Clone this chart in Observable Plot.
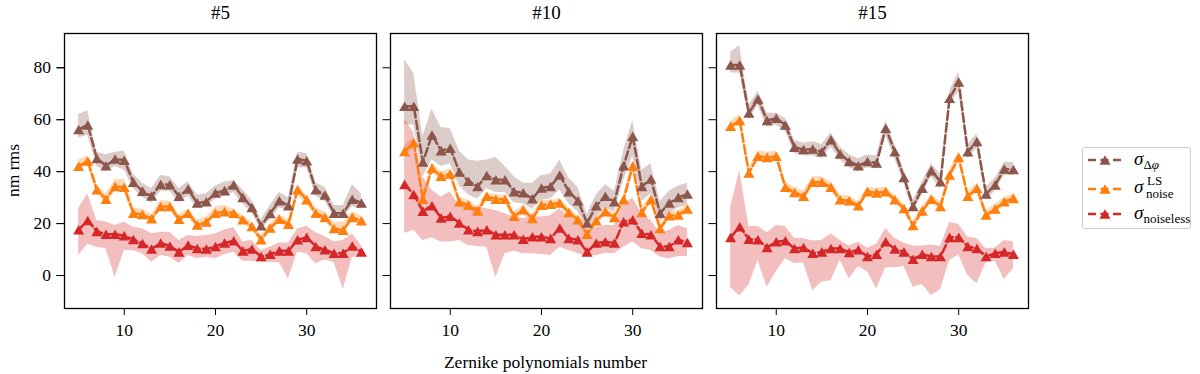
<!DOCTYPE html>
<html>
<head>
<meta charset="utf-8">
<script src="https://cdn.jsdelivr.net/npm/d3@7"></script>
<script src="https://cdn.jsdelivr.net/npm/@observablehq/plot@0.6"></script>
<style>
  html, body { margin: 0; padding: 0; background: #fff; }
  #wrap { position: relative; width: 1200px; height: 374px; font-family: "Liberation Serif", "DejaVu Serif", serif; }
  #legend { position: absolute; left: 0; top: 0; }
</style>
</head>
<body>
<div id="wrap"></div>
<script>
// ---- data ----
const zernike = [5,6,7,8,9,10,11,12,13,14,15,16,17,18,19,20,21,22,23,24,25,26,27,28,29,30,31,32,33,34,35,36];
const panels = ["#5", "#10", "#15"];
const seriesNames = ["dphi", "noiseLS", "noiseless"];
const seriesColors = ["#8c564b", "#ff7f0e", "#d62728"];
const yTicks = [0, 20, 40, 60, 80];
const xTicks = [10, 20, 30];
const xLabel = "Zernike polynomials number";
const yLabel = "nm rms";

// panel #5
const dphi5   = [56.2,58.0,45.1,42.3,44.9,44.4,35.9,32.5,30.6,35.1,35.0,30.5,33.3,27.9,28.4,31.8,32.7,34.9,30.1,26.2,19.2,23.9,28.8,26.9,44.9,44.2,33.0,31.0,24.0,24.0,29.4,27.9];
const dphi5Hi = [62.0,63.5,47.5,46.5,47.5,48.0,39.0,35.5,33.5,38.5,38.0,33.5,36.0,31.0,31.5,34.5,36.0,36.5,33.0,29.0,21.5,27.0,32.0,30.0,47.5,47.0,35.5,34.0,27.0,27.0,35.0,31.5];
const dphi5Lo = [53.0,54.0,42.0,40.0,42.0,40.5,33.5,30.0,28.0,32.5,32.5,28.0,30.5,26.0,26.5,29.5,30.5,32.0,27.5,24.0,17.5,21.5,26.0,25.0,41.5,41.5,30.5,28.5,22.5,22.5,26.5,25.5];
const ls5     = [42.1,44.1,33.0,29.4,34.3,34.0,24.0,23.5,21.9,26.6,26.6,21.7,24.0,19.5,20.6,24.0,24.6,24.0,21.5,18.9,13.8,18.3,21.7,19.8,33.0,29.2,24.0,22.4,18.1,17.4,22.4,21.1];
const ls5Hi   = [44.5,46.0,35.0,31.5,37.0,37.0,26.0,25.5,23.5,29.0,28.5,23.5,25.5,21.5,22.5,26.5,27.0,25.5,23.0,20.5,15.5,20.0,23.5,21.5,35.0,31.0,26.0,24.5,20.5,20.5,24.5,23.0];
const ls5Lo   = [40.5,42.5,31.5,27.5,32.5,32.0,22.5,22.0,20.5,25.0,25.0,20.0,22.5,18.0,19.0,22.5,23.0,22.5,20.0,17.5,12.5,17.0,20.0,18.5,31.0,27.5,22.5,21.0,17.0,16.0,21.0,19.5];
const nl5     = [17.6,21.2,17.0,15.9,15.9,15.3,13.9,12.3,10.2,12.5,11.4,9.1,11.7,10.4,10.2,11.2,12.5,13.4,9.5,10.2,7.3,8.2,9.5,9.5,13.8,14.7,11.2,9.9,8.6,8.6,11.4,9.1];
const nl5Hi   = [25.7,31.5,21.2,20.6,19.3,20.6,18.6,18.0,16.1,16.7,16.7,13.5,15.4,15.0,15.4,16.0,17.5,18.5,13.0,13.5,9.6,11.0,12.5,12.5,18.0,19.0,16.5,15.0,13.0,13.5,16.0,11.6];
const nl5Lo   = [7.7,12.0,10.9,10.3,-0.8,9.6,9.6,8.4,5.1,7.7,7.0,4.6,7.7,6.5,7.0,6.5,8.0,9.0,5.5,5.5,5.1,5.0,5.0,-1.3,9.0,8.4,4.5,6.0,5.0,-5.3,7.0,7.0];

// panel #10
const dphi10   = [65.2,65.2,43.7,54.1,48.1,49.0,39.9,36.3,34.3,38.5,36.9,36.9,32.3,31.9,29.6,33.7,34.3,38.7,32.3,28.8,20.2,26.9,30.5,28.4,42.3,53.6,34.3,37.2,24.0,27.9,30.1,31.4];
const dphi10Hi = [83.2,77.8,53.5,64.0,57.0,56.6,48.0,44.5,44.0,44.5,45.5,42.0,38.0,35.5,35.5,38.5,39.0,44.5,37.5,34.0,23.5,31.0,35.0,32.5,48.0,59.8,40.5,43.0,28.5,32.5,34.5,35.5];
const dphi10Lo = [58.0,58.0,38.0,44.5,42.0,43.0,34.5,31.0,29.5,33.5,32.0,32.0,28.0,27.5,25.5,29.0,29.5,33.0,27.5,24.5,17.5,22.5,26.0,24.5,36.5,46.0,28.5,31.5,20.5,24.0,26.0,27.0];
const ls10     = [47.8,51.1,29.4,41.3,38.2,39.1,28.4,27.1,24.9,30.5,29.4,29.4,22.8,25.3,22.0,27.1,27.5,27.9,24.3,21.5,15.9,21.1,24.6,22.4,29.2,42.2,24.3,29.2,18.1,23.0,23.3,25.6];
const ls10Hi   = [50.0,53.0,31.5,43.5,40.0,41.0,30.0,29.0,26.5,32.0,31.0,31.0,24.5,27.0,23.5,29.0,29.0,29.5,26.0,23.0,17.5,22.5,26.0,24.0,31.0,44.5,26.0,31.0,19.5,24.5,25.0,27.0];
const ls10Lo   = [46.0,49.0,27.5,39.5,36.5,37.5,26.5,25.5,23.0,29.0,28.0,28.0,21.0,23.5,20.5,25.5,26.0,26.5,22.5,20.0,14.5,19.5,23.0,21.0,27.5,40.0,22.5,27.5,16.5,21.5,22.0,24.0];
const nl10     = [35.1,31.2,24.8,26.9,22.2,22.8,20.2,17.6,17.0,17.6,15.7,15.7,15.7,14.0,14.9,14.9,14.3,18.3,14.3,13.8,9.1,12.5,13.0,12.5,20.7,21.5,16.3,15.7,11.2,11.2,13.8,12.7];
const nl10Hi   = [60.3,55.0,37.9,32.8,30.2,32.2,27.0,26.4,26.4,25.7,25.0,23.8,22.5,22.0,22.5,22.5,23.0,25.7,22.5,20.6,17.4,18.5,19.3,19.3,27.6,29.8,23.8,21.2,16.3,17.4,19.3,18.0];
const nl10Lo   = [16.3,17.4,13.5,14.5,12.9,12.9,13.5,11.6,11.2,10.9,-0.9,8.4,9.4,8.4,8.4,8.1,7.7,10.9,9.6,8.4,7.1,7.7,8.6,8.4,10.9,12.9,10.3,9.6,7.1,6.5,7.3,7.3];

// panel #15
const dphi15   = [81.1,81.1,62.6,68.0,59.7,60.6,58.0,49.4,48.5,48.7,47.7,52.3,46.8,43.9,42.3,43.9,43.3,56.7,47.7,37.8,26.6,33.6,40.4,36.1,68.3,74.5,47.7,51.6,31.4,34.9,41.0,40.8];
const dphi15Hi = [86.0,88.5,65.5,71.0,62.5,62.5,60.5,52.0,51.0,51.5,50.5,55.0,49.5,46.5,45.0,46.5,46.0,59.5,50.5,40.5,29.0,36.0,43.0,39.0,71.0,78.5,50.5,54.5,34.0,37.5,43.5,43.5];
const dphi15Lo = [78.0,78.0,60.0,65.5,57.0,58.0,55.5,47.0,46.0,46.0,45.0,49.5,44.5,41.5,40.0,41.5,41.0,54.0,45.0,35.5,24.5,31.0,38.0,33.5,65.5,71.0,45.0,49.0,29.0,32.5,38.5,38.5];
const ls15     = [57.5,59.7,39.5,45.9,45.5,45.9,34.0,32.0,30.5,35.9,35.9,34.0,29.2,28.8,26.9,32.3,31.8,32.3,29.2,25.8,19.3,24.9,29.4,26.6,38.7,45.5,30.5,33.6,23.3,25.6,28.4,29.7];
const ls15Hi   = [59.5,61.8,41.5,48.0,47.5,48.0,36.0,34.0,32.5,38.0,38.0,36.0,31.0,30.5,28.5,34.0,33.5,34.0,31.0,27.5,21.0,26.5,31.0,28.5,40.5,47.5,32.5,35.5,25.0,27.5,30.0,31.5];
const ls15Lo   = [56.0,58.0,38.0,44.5,44.0,44.5,32.5,30.5,29.0,34.5,34.5,32.5,27.5,27.5,25.5,31.0,30.5,31.0,27.5,24.5,18.0,23.5,28.0,25.0,37.0,43.5,29.0,32.0,22.0,24.0,27.0,28.5];
const nl15     = [14.7,18.8,14.0,13.8,10.8,13.0,13.4,10.4,10.8,8.6,9.1,10.4,10.4,8.9,9.9,7.3,8.2,13.0,10.2,9.1,6.3,8.2,7.3,7.3,14.7,14.7,11.2,10.4,7.3,8.6,9.1,8.2];
const nl15Hi   = [26.4,40.3,18.9,18.9,16.5,19.3,19.0,14.3,14.3,13.3,13.6,16.0,13.5,11.4,12.9,10.5,12.0,18.0,14.3,12.5,11.4,11.4,11.8,11.2,20.5,19.6,14.8,14.2,10.3,10.6,13.5,12.9];
const nl15Lo   = [-4.6,-7.9,-3.7,5.8,-4.5,1.5,6.6,4.6,4.8,-5.9,-2.5,-2.0,6.0,-1.3,3.5,1.5,-5.1,3.0,3.0,3.5,-4.5,-3.5,-7.7,-5.5,5.8,8.0,0.0,-3.2,5.0,5.5,-1.5,2.6];

// ---- build long table for Plot ----
const groups = [
  ["#5",  "dphi", dphi5, dphi5Lo, dphi5Hi], ["#5",  "noiseLS", ls5, ls5Lo, ls5Hi], ["#5",  "noiseless", nl5, nl5Lo, nl5Hi],
  ["#10", "dphi", dphi10, dphi10Lo, dphi10Hi], ["#10", "noiseLS", ls10, ls10Lo, ls10Hi], ["#10", "noiseless", nl10, nl10Lo, nl10Hi],
  ["#15", "dphi", dphi15, dphi15Lo, dphi15Hi], ["#15", "noiseLS", ls15, ls15Lo, ls15Hi], ["#15", "noiseless", nl15, nl15Lo, nl15Hi]
];
const table = [];
for (const [panel, series, v, lo, hi] of groups) {
  zernike.forEach((x, i) => table.push({panel, series, x, y: v[i], lo: lo[i], hi: hi[i]}));
}

const chart = Plot.plot({
  width: 1200,
  height: 374,
  marginLeft: 63,
  marginRight: 172,
  marginTop: 33,
  marginBottom: 66,
  style: {fontFamily: "'Liberation Serif', 'DejaVu Serif', serif", fontSize: "17px", color: "#000", background: "#fff", overflow: "visible"},
  fx: {domain: panels, paddingInner: 0.043, paddingOuter: 0, label: null},
  x: {domain: [3.45, 37.65]},
  y: {domain: [-12.7, 93.2]},
  color: {domain: seriesNames, range: seriesColors},
  marks: [
    Plot.areaY(table, {fx: "panel", x: "x", y1: "lo", y2: "hi", z: "series", fill: "series", fillOpacity: 0.3}),
    Plot.line(table, {fx: "panel", x: "x", y: "y", z: "series", stroke: "series", strokeWidth: 2.5, strokeDasharray: "8.5,3.5"}),
    Plot.dot(table, {fx: "panel", x: "x", y: "y", symbol: "triangle", fill: "series", r: 4.1, dy: 1.6}),
    Plot.frame({stroke: "#000", strokeWidth: 1.3}),
    Plot.axisX({ticks: xTicks, tickSize: 7, tickPadding: 8, label: null, fontSize: 17.5}),
    Plot.axisY({ticks: yTicks, tickSize: 7.5, tickPadding: 6, label: null, fontSize: 17.5, facetAnchor: "left"}),
    Plot.axisY({ticks: yTicks, tickSize: 7.5, tickFormat: () => "", label: null, facetAnchor: null}),
    Plot.axisFx({anchor: "top", tickSize: 0, tickPadding: 15, label: null, fontSize: 19})
  ]
});
document.getElementById("wrap").appendChild(chart);

// axis titles
const svg = d3.select(chart);
svg.append("text").attr("x", 545.5).attr("y", 368).attr("text-anchor", "middle")
  .attr("font-size", 17.5).attr("fill", "#000").text(xLabel);
svg.append("text").attr("transform", "translate(19,170.5) rotate(-90)").attr("text-anchor", "middle")
  .attr("font-size", 17.5).attr("fill", "#000").text(yLabel);

// legend
const lg = d3.select("#wrap").append("svg").attr("id", "legend").attr("width", 1200).attr("height", 374)
  .style("font-family", "'Liberation Serif', 'DejaVu Serif', serif");
lg.append("rect").attr("x", 1082.5).attr("y", 147.5).attr("width", 108).attr("height", 81)
  .attr("rx", 2).attr("fill", "#fff").attr("fill-opacity", 0.8).attr("stroke", "#ccc").attr("stroke-width", 1);
const entryY = [160, 189, 214];
const sym = d3.symbol(d3.symbolTriangle, Math.PI * 4.1 * 4.1);
seriesNames.forEach((s, i) => {
  const g = lg.append("g");
  g.append("line").attr("x1", 1088).attr("x2", 1122).attr("y1", entryY[i]).attr("y2", entryY[i])
    .attr("stroke", seriesColors[i]).attr("stroke-width", 2.5).attr("stroke-dasharray", "8,4.5");
  g.append("path").attr("d", sym()).attr("transform", `translate(1105,${entryY[i] + 1.6})`).attr("fill", seriesColors[i]);
});
// labels: σ_{Δφ}, σ^{LS}_{noise}, σ_{noiseless}
const t1 = lg.append("text").attr("x", 1134).attr("y", 165).attr("font-size", 19).attr("fill", "#000");
t1.append("tspan").attr("font-style", "italic").text("σ");
t1.append("tspan").attr("font-size", 13).attr("dy", 4).text("Δ");
t1.append("tspan").attr("font-size", 13).attr("font-style", "italic").text("φ");

const t2 = lg.append("text").attr("x", 1134).attr("y", 193).attr("font-size", 19).attr("fill", "#000");
t2.append("tspan").attr("font-style", "italic").text("σ");
lg.append("text").attr("x", 1147).attr("y", 185).attr("font-size", 13).attr("fill", "#000").text("LS");
lg.append("text").attr("x", 1146).attr("y", 198).attr("font-size", 13).attr("fill", "#000").text("noise");

const t3 = lg.append("text").attr("x", 1134).attr("y", 219).attr("font-size", 19).attr("fill", "#000");
t3.append("tspan").attr("font-style", "italic").text("σ");
t3.append("tspan").attr("font-size", 13).attr("dy", 4).text("noiseless");
</script>
</body>
</html>
